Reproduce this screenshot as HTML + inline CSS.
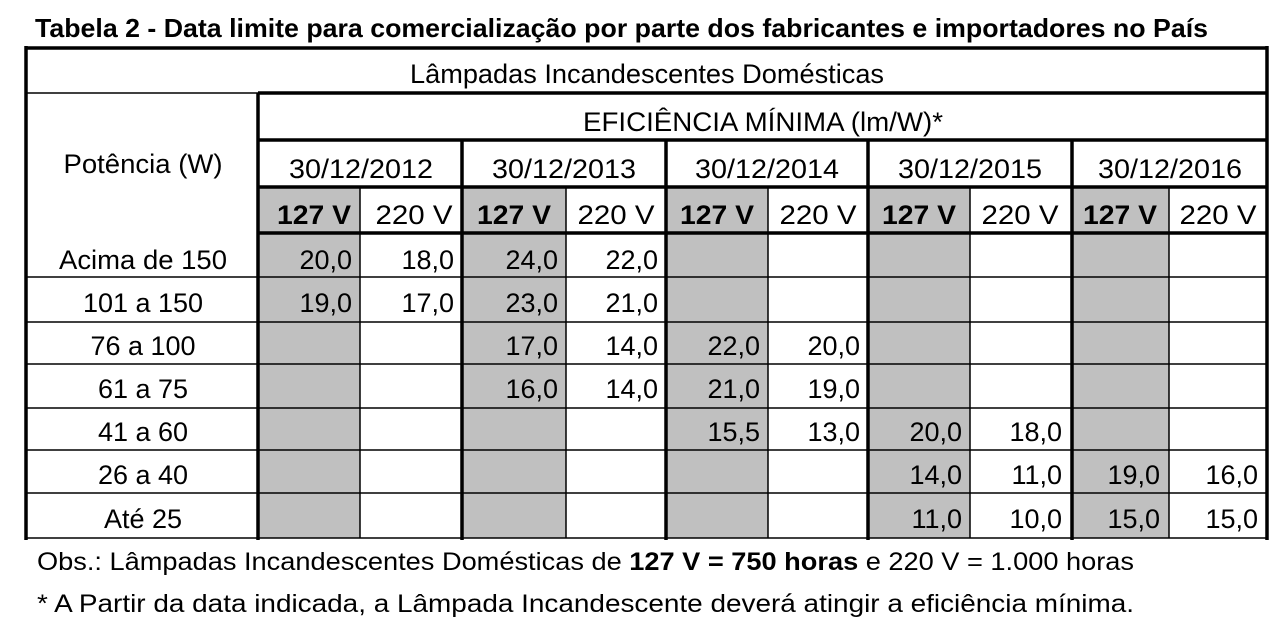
<!DOCTYPE html>
<html><head><meta charset="utf-8"><style>
html,body{margin:0;padding:0;background:#fff;}
svg{display:block;}
text{font-family:"Liberation Sans",sans-serif;font-size:27px;fill:#000;}
</style></head><body>
<svg width="1284" height="627" viewBox="0 0 1284 627" xmlns="http://www.w3.org/2000/svg">
<rect width="1284" height="627" fill="#fff"/>
<g fill="#c0c0c0">
<rect x="258" y="187" width="102" height="351"/>
<rect x="462" y="187" width="104" height="351"/>
<rect x="666" y="187" width="102" height="351"/>
<rect x="868" y="187" width="102" height="351"/>
<rect x="1072" y="187" width="97" height="351"/>
</g>
<g stroke="#000" stroke-width="1.5">
<line x1="26" y1="93" x2="258" y2="93"/>
<line x1="26" y1="277" x2="1267" y2="277"/>
<line x1="26" y1="322" x2="1267" y2="322"/>
<line x1="26" y1="364" x2="1267" y2="364"/>
<line x1="26" y1="408" x2="1267" y2="408"/>
<line x1="26" y1="450" x2="1267" y2="450"/>
<line x1="26" y1="493" x2="1267" y2="493"/>
<line x1="26" y1="538" x2="1267" y2="538"/>
<line x1="360" y1="187" x2="360" y2="538"/>
<line x1="566" y1="187" x2="566" y2="538"/>
<line x1="768" y1="187" x2="768" y2="538"/>
<line x1="970" y1="187" x2="970" y2="538"/>
<line x1="1169" y1="187" x2="1169" y2="538"/>
</g>
<g stroke="#000" stroke-width="3.5">
<line x1="26" y1="48" x2="1267" y2="48"/>
<line x1="26" y1="46" x2="26" y2="540"/>
<line x1="1267" y1="46" x2="1267" y2="540"/>
<line x1="258" y1="93" x2="1267" y2="93"/>
<line x1="258" y1="140" x2="1267" y2="140"/>
<line x1="258" y1="187" x2="1267" y2="187"/>
<line x1="258" y1="233" x2="1267" y2="233"/>
<line x1="258" y1="93" x2="258" y2="540"/>
<line x1="462" y1="140" x2="462" y2="540"/>
<line x1="666" y1="140" x2="666" y2="540"/>
<line x1="868" y1="140" x2="868" y2="540"/>
<line x1="1072" y1="140" x2="1072" y2="540"/>
</g>
<text x="35" y="37" font-weight="bold" style="font-size:26px" textLength="1173" lengthAdjust="spacingAndGlyphs">Tabela 2 - Data limite para comercialização por parte dos fabricantes e importadores no País</text>
<g text-anchor="middle">
<text x="647" y="83" textLength="474" lengthAdjust="spacingAndGlyphs">Lâmpadas Incandescentes Domésticas</text>
<text x="763" y="131" textLength="360" lengthAdjust="spacingAndGlyphs">EFICIÊNCIA MÍNIMA (lm/W)*</text>
<text x="143" y="173" textLength="159" lengthAdjust="spacingAndGlyphs">Potência (W)</text>
<text x="361" y="178" textLength="144" lengthAdjust="spacingAndGlyphs">30/12/2012</text>
<text x="564" y="178" textLength="144" lengthAdjust="spacingAndGlyphs">30/12/2013</text>
<text x="767" y="178" textLength="144" lengthAdjust="spacingAndGlyphs">30/12/2014</text>
<text x="970" y="178" textLength="144" lengthAdjust="spacingAndGlyphs">30/12/2015</text>
<text x="1170" y="178" textLength="144" lengthAdjust="spacingAndGlyphs">30/12/2016</text>
<g font-weight="bold"><text x="314" y="224" textLength="74" lengthAdjust="spacingAndGlyphs">127 V</text><text x="514" y="224" textLength="74" lengthAdjust="spacingAndGlyphs">127 V</text><text x="717" y="224" textLength="74" lengthAdjust="spacingAndGlyphs">127 V</text><text x="919" y="224" textLength="74" lengthAdjust="spacingAndGlyphs">127 V</text><text x="1120" y="224" textLength="74" lengthAdjust="spacingAndGlyphs">127 V</text></g>
<text x="414" y="224" textLength="77" lengthAdjust="spacingAndGlyphs">220 V</text><text x="616" y="224" textLength="77" lengthAdjust="spacingAndGlyphs">220 V</text><text x="818" y="224" textLength="77" lengthAdjust="spacingAndGlyphs">220 V</text><text x="1020" y="224" textLength="77" lengthAdjust="spacingAndGlyphs">220 V</text><text x="1218" y="224" textLength="77" lengthAdjust="spacingAndGlyphs">220 V</text>
<text x="143" y="269" textLength="168" lengthAdjust="spacingAndGlyphs">Acima de 150</text>
<text x="143" y="312">101 a 150</text>
<text x="143" y="355">76 a 100</text>
<text x="143" y="398">61 a 75</text>
<text x="143" y="441">41 a 60</text>
<text x="143" y="484">26 a 40</text>
<text x="143" y="528">Até 25</text>
</g>
<g text-anchor="end">
<text x="352" y="269">20,0</text><text x="454" y="269">18,0</text><text x="558" y="269">24,0</text><text x="658" y="269">22,0</text>
<text x="352" y="312">19,0</text><text x="454" y="312">17,0</text><text x="558" y="312">23,0</text><text x="658" y="312">21,0</text>
<text x="558" y="355">17,0</text><text x="658" y="355">14,0</text><text x="760" y="355">22,0</text><text x="860" y="355">20,0</text>
<text x="558" y="398">16,0</text><text x="658" y="398">14,0</text><text x="760" y="398">21,0</text><text x="860" y="398">19,0</text>
<text x="760" y="441">15,5</text><text x="860" y="441">13,0</text><text x="962" y="441">20,0</text><text x="1062" y="441">18,0</text>
<text x="962" y="484">14,0</text><text x="1062" y="484">11,0</text><text x="1160" y="484">19,0</text><text x="1258" y="484">16,0</text>
<text x="962" y="528">11,0</text><text x="1062" y="528">10,0</text><text x="1160" y="528">15,0</text><text x="1258" y="528">15,0</text>
</g>
<text x="37" y="570" style="font-size:25px" textLength="1097" lengthAdjust="spacingAndGlyphs">Obs.:  Lâmpadas Incandescentes Domésticas de <tspan font-weight="bold">127 V = 750 horas</tspan> e 220 V = 1.000 horas</text>
<text x="37" y="612" style="font-size:25px" textLength="1097" lengthAdjust="spacingAndGlyphs">* A Partir da data indicada, a Lâmpada Incandescente deverá atingir a eficiência mínima.</text>
</svg>
</body></html>
